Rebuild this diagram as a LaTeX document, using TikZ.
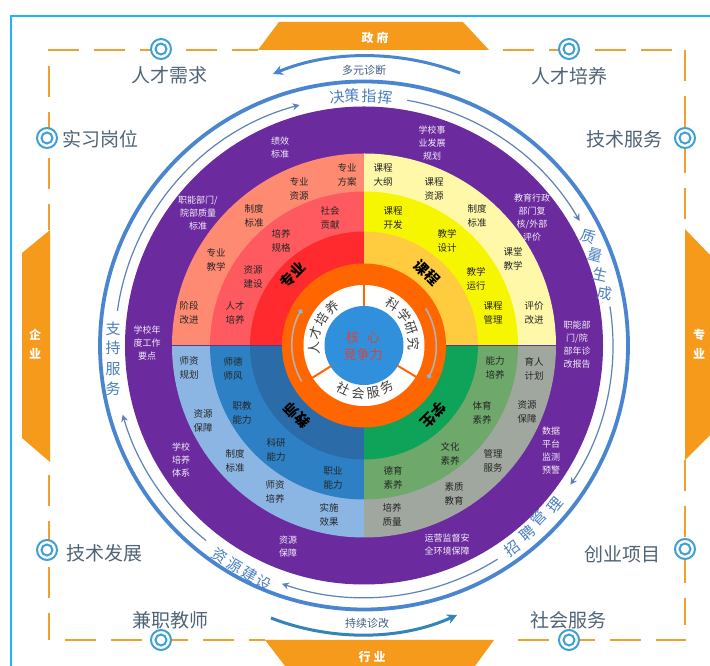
\documentclass[tikz,border=0pt]{standalone}
\usepackage{fontspec}
\setmainfont{Noto Sans CJK SC}
\usetikzlibrary{arrows.meta}
\definecolor{frameblue}{HTML}{1EB4F5}
\definecolor{tanorange}{HTML}{F59A1A}
\definecolor{dashorange}{HTML}{EFA030}
\definecolor{purp}{HTML}{6B2A9E}
\definecolor{ringorange}{HTML}{FF6600}
\definecolor{corefill}{HTML}{3090DC}
\definecolor{corered}{HTML}{D8453C}
\definecolor{arcblue}{HTML}{4A86D0}
\definecolor{thinblue}{HTML}{5C82B8}
\definecolor{lblblue}{HTML}{4A7FC0}
\definecolor{outertext}{HTML}{4F6476}
\definecolor{markblue}{HTML}{3FA0D5}
\definecolor{seam}{HTML}{5A3A90}
\definecolor{notetext}{HTML}{3F5E86}
\tikzset{
  dashline/.style={draw=dashorange,line width=2.6pt,dash pattern=on 31pt off 15pt},
  tabshape/.style={fill=tanorange,draw=none},
  tabtext/.style={text=white,font=\fontsize{12}{14}\selectfont\bfseries,inner sep=0pt},
  outerlabel/.style={text=outertext,font=\fontsize{19}{21}\selectfont,inner sep=0pt},
  purplabel/.style={text=white!92!purp,align=center,inner sep=0pt,font=\fontsize{9}{13}\selectfont},
  ringlabel/.style={text=black!85,align=center,inner sep=0pt,font=\fontsize{9.5}{13.5}\selectfont},
  quadlabel/.style={text=black,inner sep=0pt,font=\fontsize{14.5}{16}\selectfont\bfseries},
  whitering/.style={text=black!75,inner sep=0pt,font=\fontsize{13}{14}\selectfont},
  arclabel/.style={text=lblblue,inner sep=0pt,font=\fontsize{15}{16}\selectfont},
  ringout/.style={circle,draw=markblue,fill=white,line width=2pt,minimum size=20pt,inner sep=0pt},
  ringin/.style={circle,draw=markblue,fill=white,line width=2pt,minimum size=11pt,inner sep=0pt},
  thinarc/.style={draw=thinblue,line width=1.2pt,-{Stealth[length=7pt,width=7pt]}},
  grayarc/.style={draw=black!30,line width=1.6pt,-{Circle[length=4.5pt,color=markblue!70]}},
  sep/.style={draw=ringorange,line width=2pt},
  smallnote/.style={text=notetext,inner sep=0pt,font=\fontsize{11}{13}\selectfont},
  coretext/.style={text=corered,inner sep=0pt,align=center,font=\fontsize{13}{17}\selectfont}
}
\begin{document}
\begin{tikzpicture}[x=1pt,y=1pt]
\useasboundingbox (0,0) rectangle (710,666);
\fill[white] (0,0) rectangle (710,666);
% ---------------- circular part, centre of the wheel as origin, y up
\begin{scope}[shift={(364,320.5)}]
  \coordinate (c) at (0,0);
  \draw[arcblue,line width=3.8pt] (c) circle[radius=264];
  \fill[purp] (c) circle[radius=239];
  \foreach \st/\ca/\cb/\cc in {
     90/FF8A72/FF5A5F/FF2A2E,
     0/FFF8A8/F6F600/FFCC40,
     180/8BB6E3/2D80C3/2B6BA8,
     270/A0A79F/6EA96B/0FA35A}{
    \definecolor{qa}{HTML}{\ca}\definecolor{qb}{HTML}{\cb}\definecolor{qc}{HTML}{\cc}
    \fill[qa] (c) -- (\st:192) arc[start angle=\st,delta angle=90,radius=192] -- cycle;
    \fill[qb] (c) -- (\st:154) arc[start angle=\st,delta angle=90,radius=154] -- cycle;
    \fill[qc] (c) -- (\st:114) arc[start angle=\st,delta angle=90,radius=114] -- cycle;
  }
  \draw[seam,line width=1.2pt] (-192,0) -- (192,0);
  \fill[ringorange] (c) circle[radius=82];
  \fill[white] (c) circle[radius=60.5];
  \fill[corefill] (c) circle[radius=39.5];
  \foreach \a in {90,-148,-31}{\draw[sep] (\a:39) -- (\a:61);}
  % thin arrows beside the wheel
  \draw[thinarc] (172:249) arc[start angle=172,end angle=105,radius=249];
  \draw[thinarc] (80:249) arc[start angle=80,end angle=30,radius=249];
  \draw[thinarc] (9:249) arc[start angle=9,end angle=-34,radius=249];
  \draw[thinarc] (-58:252) arc[start angle=-58,end angle=-109,radius=252];
  \draw[thinarc] (231:251) arc[start angle=231,end angle=196,radius=251];
  % grey arrows in the orange ring
  \draw[grayarc] (210:72) arc[start angle=210,end angle=150,radius=72];
  \draw[grayarc] (31:72) arc[start angle=31,end angle=-27,radius=72];
  % texts in the white ring
  \foreach \a/\ch [count=\i] in {183/人,165/才,148/培,130/养,55/科,37/学,20/研,2/究}{
    \node[whitering,rotate=\a-90] (wr\i) at (\a:50) {\ch};
  }
  \foreach \a/\ch [count=\i] in {-115/社,-97/会,-79/服,-61/务}{
    \node[whitering,rotate=\a+90] (ws\i) at (\a:48) {\ch};
  }
\end{scope}
% ---------------- everything else in the reference's pixel coordinates
\begin{scope}[y=-1pt,yshift=666pt]
  \draw[frameblue,line width=2pt] (710,16) -- (11,16) -- (11,666);
  % tabs
  \fill[tabshape] (258,50) -- (279,22) -- (463,22) -- (489,50) -- cycle;
  \fill[tabshape] (265,640) -- (285,666) -- (475,666) -- (494,640) -- cycle;
  \fill[tabshape] (50,230) -- (22,253) -- (22,438) -- (50,462) -- cycle;
  \fill[tabshape] (685,229) -- (710,255) -- (710,435) -- (685,460) -- cycle;
  \node[tabtext] (tabgov) at (375,38) {政\hspace{3pt}府};
  \node[tabtext] (tabind) at (372,657) {行\hspace{3pt}业};
  \node[tabtext] (tabent1) at (35,335) {企};
  \node[tabtext] (tabent2) at (35,354) {业};
  \node[tabtext] (tabpro1) at (699,335) {专};
  \node[tabtext] (tabpro2) at (699,354) {业};
  % dashed frame
  \coordinate (tl) at (48,50);   \coordinate (tg) at (258,50);
  \coordinate (tr) at (503,50);  \coordinate (te) at (672,50);
  \coordinate (ra) at (685,50);  \coordinate (rb) at (685,229);
  \coordinate (rc) at (685,460); \coordinate (rd) at (685,625);
  \coordinate (ba) at (65,640);  \coordinate (bb) at (265,640);
  \coordinate (bc) at (518,640); \coordinate (bd) at (686,640);
  \coordinate (la) at (49,66);   \coordinate (lb) at (49,230);
  \coordinate (lc) at (49,475);  \coordinate (ld) at (49,640);
  \draw[dashline] (tl) -- (tg);
  \draw[dashline] (tr) -- (te);
  \draw[dashline] (ra) -- (rb);
  \draw[dashline] (rc) -- (rd);
  \draw[dashline] (ba) -- (bb);
  \draw[dashline] (bc) -- (bd);
  \draw[dashline] (la) -- (lb);
  \draw[dashline] (lc) -- (ld);
  % ring markers
  \foreach \x/\y [count=\i] in {161/49,569/49,47/138,685/138,47/550,685/549,161/640,569/640}{
    \node[ringout] (mo\i) at (\x,\y) {};
    \node[ringin] (mi\i) at (\x,\y) {};
  }
  % outer labels
  \node[outerlabel] (ol1) at (169,75) {人才需求};
  \node[outerlabel] (ol2) at (569,76) {人才培养};
  \node[outerlabel] (ol3) at (100,139) {实习岗位};
  \node[outerlabel] (ol4) at (624,139) {技术服务};
  \node[outerlabel] (ol5) at (104,553) {技术发展};
  \node[outerlabel] (ol6) at (622,554) {创业项目};
  \node[outerlabel] (ol7) at (170,620) {兼职教师};
  \node[outerlabel] (ol8) at (568,620) {社会服务};
  % top and bottom arrows
  \draw[arcblue,line width=3pt,-{Stealth[length=10pt,width=10pt]}] (460,73) .. controls (400,50) and (330,50) .. (273,74);
  \draw[arcblue!70!teal,line width=3pt,-{Stealth[length=10pt,width=10pt]}] (271,618) .. controls (330,641) and (400,641) .. (457,615);
  \node[smallnote] (nt) at (364,70) {多元诊断};
  \node[smallnote] (nb) at (367,623) {持续诊改};
  % labels following the outer arc
  \foreach \x/\y/\r/\ch [count=\i] in {
    337/97/6/决,352/96/2/策,369/96/-1/指,385/97/-5/挥,
    588/236/-18/质,595/255/-15/量,600/274/-13/生,605/293/-10/成,
    512/548/36/招,527/533/41/聘,539/518/46/管,555/505/50/理,
    220/556/-32/资,235/565/-30/源,250/574/-30/建,264/583/-28/设,
    113/329/0/支,113/348/0/持,113/369/0/服,113/389/0/务}{
    \node[arclabel,rotate=\r] (al\i) at (\x,\y) {\ch};
  }
  % texts on the purple ring
  \foreach \x/\y/\t [count=\i] in {
    280/148/{绩效\\标准},
    198/213/{职能部门/\\院部质量\\标准},
    147/343/{学校年\\度工作\\要点},
    432/143/{学校事\\业发展\\规划},
    532/218/{教育行政\\部门复\\核/外部\\评价},
    577/345/{职能部\\门/院\\部年诊\\改报告},
    551/451/{数据\\平台\\监测\\预警},
    447/545/{运营监督安\\全环境保障},
    288/547/{资源\\保障},
    181/460/{学校\\培养\\体系}}{
    \node[purplabel] (pl\i) at (\x,\y) {\t};
  }
  % texts on the coloured rings
  \foreach \x/\y/\t [count=\i] in {
    347/175/{专业\\方案},299/189/{专业\\资源},254/216/{制度\\标准},216/260/{专业\\教学},189/313/{阶段\\改进},
    330/218/{社会\\贡献},281/241/{培养\\规格},253/277/{资源\\建设},235/313/{人才\\培养},
    383/175/{课程\\大纲},434/189/{课程\\资源},477/216/{制度\\标准},513/259/{课堂\\教学},534/313/{评价\\改进},
    393/218/{课程\\开发},447/241/{教学\\设计},476/279/{教学\\运行},493/313/{课程\\管理},
    189/368/{师资\\规划},233/369/{师德\\师风},203/421/{资源\\保障},242/413/{职教\\能力},235/461/{制度\\标准},
    276/450/{科研\\能力},275/492/{师资\\培养},333/478/{职业\\能力},329/515/{实施\\效果},
    495/368/{能力\\培养},534/369/{育人\\计划},527/412/{资源\\保障},482/413/{体育\\素养},450/454/{文化\\素养},
    493/461/{管理\\服务},393/478/{德育\\素养},454/494/{素质\\教育},392/515/{培养\\质量}}{
    \node[ringlabel] (rl\i) at (\x,\y) {\t};
  }
  % quadrant titles
  \node[quadlabel,rotate=45] (q1) at (293,275) {专业};
  \node[quadlabel,rotate=-45] (q2) at (427,273) {课程};
  \node[quadlabel,rotate=135] (q3) at (297,415) {教师};
  \node[quadlabel,rotate=225] (q4) at (433,415) {学生};
  % centre
  \node[coretext] (core) at (363,346) {核\hspace{8pt}心\\竞争力};
\end{scope}
\end{tikzpicture}
\end{document}
